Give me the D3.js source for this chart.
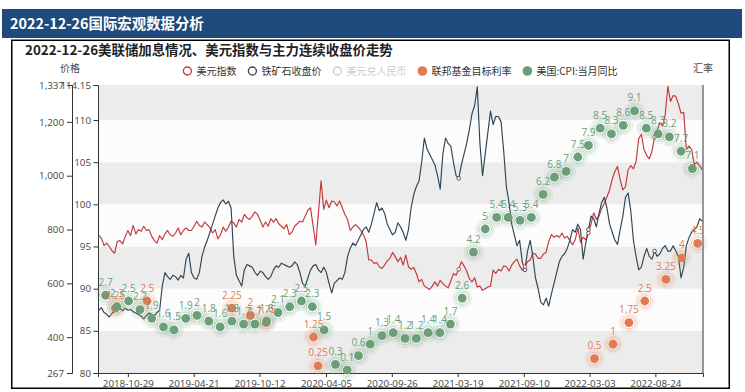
<!DOCTYPE html>
<html><head><meta charset="utf-8">
<script src="https://cdn.jsdelivr.net/npm/d3@7"></script>
<style>
body{margin:0;background:#fff;}
svg{display:block;font-family:"Noto Sans CJK SC","Noto Sans",sans-serif;}
.num{font-family:"Open Sans","Noto Sans",sans-serif;}
</style>
</head><body>
<svg id="c" width="745" height="392"></svg>
<script>
const headerText = "2022-12-26国际宏观数据分析";
const titleText = "2022-12-26美联储加息情况、美元指数与主力连续收盘价走势";
const leftAxisName = "价格";
const rightAxisName = "汇率";
const legendNames = ["美元指数","铁矿石收盘价","美元兑人民币","联邦基金目标利率","美国:CPI:当月同比"];
const seriesColors = ["#c4373a","#2f4554","#cccccc","#e07b52","#6a9f78"];
const legendActive = [true,true,false,true,true];
const xTickDates = ["2018-10-29","2019-04-21","2019-10-12","2020-04-05","2020-09-26","2021-03-19","2021-09-10","2022-03-03","2022-08-24"];
const priceTicks = [267,400,600,800,1000,1200,1337];
const indexTicks = [80,85,90,95,100,105,110,114.15];
const weeklyStart = "2018-08-13", weeklyEnd = "2022-12-26";

// 美元指数 (weekly)
const dxy = [
96.3,96.0,95.1, 95.4,95.0,94.5,94.2, 95.6,95.7,95.3,96.2,96.9, 96.3,97.5,96.5,97.0, 96.8,97.4,96.9,97.0,96.2,
95.7,95.4,96.3,95.8, 96.5,96.9,96.4,96.2, 96.6,97.2,96.4,96.9, 97.2,96.9,96.9,97.4,98.0, 97.5,97.3,97.9,97.6, 97.2,96.6,97.0,95.9,
96.4,97.3,96.8,97.3,98.0, 97.8,97.3,98.2,97.9, 98.8,98.4,98.2,98.6,99.1, 98.8,98.1,97.3,97.9, 97.4,98.3,97.9,98.3, 97.7,97.4,97.1,97.6,96.4,
96.7,97.4,97.7,98.0, 97.9,98.6,99.3,99.6, 97.4,95.2,99.0,102.8,99.4, 100.5,99.6,100.4,100.3, 99.8,100.4,99.6,98.8, 98.2,96.9,97.3,97.6,97.3,
96.9,96.4,95.6,93.4, 93.4,93.0,93.1,92.6,92.4, 92.8,93.3,93.6,94.3, 93.8,93.2,93.7,92.8, 94.0,92.6,92.3,92.5,91.8, 90.8,91.1,90.3,90.1,
89.9,90.3,90.8,90.3, 91.0,90.6,90.3,90.1, 90.9,91.8,91.6,92.3,93.2, 92.7,92.1,91.2,90.8, 91.3,90.2,90.3,89.8,90.0, 90.2,90.3,92.2,91.8,
92.3,92.1,92.7,92.6, 92.1,92.8,93.2,93.5,92.7, 92.2,92.6,93.2,93.4, 94.2,94.1,93.6,93.6, 94.1,94.3,95.6,96.4,96.1, 96.3,96.1,96.6,96.0,
96.2,95.7,95.2,95.8,97.2, 95.5,96.1,95.8,96.6, 97.7,99.0,98.2,98.6, 99.5,100.1,100.9,101.7, 103.0,103.9,104.5,102.9,101.7, 102.1,104.1,104.6,104.2,
105.1,107.8,108.3,106.5, 105.8,105.4,106.3,108.0,108.8, 109.7,109.3,110.6,114.0, 112.2,112.9,112.8,111.9,110.8, 110.9,106.5,106.9,106.5, 104.7,105.0,104.6,104.1
];
// 铁矿石收盘价 (weekly)
const iron = [
500,510,492, 485,475,488,497, 502,506,498,508,500, 503,495,490,485, 478,468,480,490,485,
480,492,500,590, 640,625,615,630, 625,612,630,620, 690,712,640,620,615, 640,700,735,760, 790,820,850,880,
900,910,895,905,880, 700,630,610,590, 650,670,665,660,640, 630,645,640,625, 615,625,650,665, 660,675,670,665,660,
665,680,670,640, 600,590,620,650, 665,670,650,640,660, 640,600,565,600, 610,620,615,640, 700,730,750,740,760,
780,800,810,790, 820,860,900,870,880, 860,820,800,780, 790,825,810,790, 760,800,880,930,960, 980,1050,1140,1100,
1080,1060,1040,1000, 950,1080,1140,1120, 1110,1050,1000,990,1040, 1080,1120,1170,1230, 1260,1330,1120,1000,1080, 1160,1240,1190,1220,
1220,1200,1090,960, 900,820,780,740,760, 680,650,720,760, 700,620,580,530, 520,545,515,560,600, 640,680,700,710,
730,760,800,790,820, 800,690,750,800, 850,840,810,860, 900,920,880,820, 790,760,745,800,850, 920,936,870,760,
700,650,660,700, 730,700,690,720,700, 710,730,740,720, 720,740,720,700,620, 660,740,770,790, 800,810,840,830
];
// 美国:CPI:当月同比 (monthly, from 2018-08)
const cpiStartMonth = "2018-08";
const cpi = [2.7,2.3,2.5,2.2,1.9, 1.6,1.5,1.9,2,1.8,1.6,1.8,1.7,1.7,1.8,2.1,2.3, 2.5,2.3,1.5,0.3,0.1,0.6,1,1.3,1.4,1.2,1.2,1.4,
 1.4,1.7,2.6,4.2,5,5.4,5.4,5.3,5.4,6.2,6.8,7, 7.5,7.9,8.5,8.3,8.6,9.1,8.5,8.3,8.2,7.7,7.1];
// 联邦基金目标利率 (decision dates)
const rateDates = ["2018-09-26","2018-12-19","2019-07-31","2019-09-18","2019-10-30","2020-03-03","2020-03-15","2022-03-16","2022-05-04","2022-06-15","2022-07-27","2022-09-21","2022-11-02","2022-12-14"];
const rateValues = [2.25,2.5,2.25,2,1.75,1.25,0.25,0.5,1,1.75,2.5,3.25,4,4.5];

const parse = d3.timeParse("%Y-%m-%d");
const svg = d3.select("#c");

// header + frame
svg.append("rect").attr("x",2).attr("y",9).attr("width",740).attr("height",29).attr("fill","#1f4a7c");
svg.append("text").attr("x",10).attr("y",28.5).attr("fill","#fff").attr("font-size",14.4).attr("font-weight",700).text(headerText);
svg.append("rect").attr("x",11.75).attr("y",40.25).attr("width",717.5).attr("height",348).attr("fill","#fff").attr("stroke","#000").attr("stroke-width",1.5);
svg.append("text").attr("x",25).attr("y",54.5).attr("fill","#222").attr("font-size",13.4).attr("font-weight",700).text(titleText);

// plot geometry
const L = 98, R = 703, T = 85, B = 373;
const x = d3.scaleTime().domain([parse("2018-08-11"), parse("2022-12-28")]).range([L, R]);
const yP = d3.scaleLinear().domain([267,1337]).range([B,T]);
const yI = d3.scaleLinear().domain([80,114.15]).range([B,T]);
const yR = d3.scaleLinear().domain([0,10]).range([B,T]);

// split areas
for (let i = 0; i < indexTicks.length - 1; i++) {
  svg.append("rect").attr("x",L).attr("width",R-L)
    .attr("y",yI(indexTicks[i+1])).attr("height",yI(indexTicks[i])-yI(indexTicks[i+1]))
    .attr("fill", i % 2 === 0 ? "#ececec" : "#fcfcfc");
}

// axes
const axisColor = "#333", labelColor = "#444";
const gx = svg.append("g").attr("transform",`translate(0,${B})`)
  .call(d3.axisBottom(x).tickValues(xTickDates.map(parse)).tickFormat(d3.timeFormat("%Y-%m-%d")).tickSizeOuter(0).tickSize(4).tickPadding(3));
const gI = svg.append("g").attr("transform",`translate(${L},0)`)
  .call(d3.axisLeft(yI).tickValues(indexTicks).tickFormat(d=>String(d)).tickSizeOuter(0).tickSize(4.5).tickPadding(2.5));
const gP = svg.append("g").attr("transform",`translate(72,0)`)
  .call(d3.axisLeft(yP).tickValues(priceTicks).tickFormat(d3.format(",")).tickSizeOuter(0).tickSize(5).tickPadding(3));
svg.append("line").attr("x1",R).attr("x2",R).attr("y1",T).attr("y2",B).attr("stroke",axisColor);
[gx,gI,gP].forEach(g=>{
  g.selectAll("path.domain").attr("stroke",axisColor);
  g.selectAll(".tick line").attr("stroke",axisColor);
  g.selectAll("text").attr("fill",labelColor).attr("font-size",9.8).attr("class","num").attr("font-family",null);
});
svg.append("text").attr("x",70).attr("y",72).attr("text-anchor","middle").attr("font-size",10).attr("fill",labelColor).text(leftAxisName);
svg.append("text").attr("x",703).attr("y",72).attr("text-anchor","middle").attr("font-size",10).attr("fill",labelColor).text(rightAxisName);

// weekly dates
const wStart = parse(weeklyStart), wEnd = parse(weeklyEnd);
const wDate = (i, n) => new Date(+wStart + (wEnd - wStart) * i / (n - 1));

svg.append("clipPath").attr("id","clp").append("rect").attr("x",L).attr("y",T-1).attr("width",R-L).attr("height",B-T+1);

function drawLine(vals, yScale, color) {
  const line = d3.line().x((d,i)=>x(wDate(i, vals.length))).y(d=>yScale(d));
  svg.append("path").datum(vals).attr("d",line).attr("fill","none").attr("stroke",color).attr("stroke-width",1.15).attr("stroke-linejoin","round").attr("clip-path","url(#clp)");
}
drawLine(dxy, yI, seriesColors[0]);
drawLine(iron, yP, seriesColors[1]);

// small symbols shown on lines at the later axis labels
const symbolDates = xTickDates.slice(5).map(parse);
function drawSymbols(vals, yScale, color) {
  symbolDates.forEach(dt=>{
    let best = 0, bd = Infinity;
    vals.forEach((v,i)=>{ const dd = Math.abs(wDate(i, vals.length) - dt); if (dd < bd) { bd = dd; best = i; } });
    svg.append("circle").attr("cx",x(wDate(best, vals.length))).attr("cy",yScale(vals[best])).attr("r",1.8)
      .attr("fill","#fff").attr("stroke",color).attr("stroke-width",0.9);
  });
}
drawSymbols(dxy, yI, seriesColors[0]);
drawSymbols(iron, yP, seriesColors[1]);

// effect scatter
function rippleScatter(points, color) {
  const g = svg.append("g");
  points.forEach(p=>{
    const cx = x(p.date), cy = yR(p.value);
    [[9.5,0.18],[7.8,0.3],[6.2,0.45]].forEach(([r,o])=>{
      g.append("circle").attr("cx",cx).attr("cy",cy).attr("r",r).attr("fill","none").attr("stroke",color).attr("stroke-opacity",o).attr("stroke-width",0.9);
    });
    g.append("circle").attr("cx",cx).attr("cy",cy).attr("r",4.4).attr("fill",color);
  });
  return g;
}
function scatterLabels(points, color) {
  const g = svg.append("g");
  points.forEach(p=>{
    g.append("text").attr("x",x(p.date)).attr("y",yR(p.value)-9.5).attr("text-anchor","middle")
      .attr("font-size",10).attr("class","num").attr("fill",color).text(String(p.value));
  });
}
const cpiStart = d3.timeParse("%Y-%m")(cpiStartMonth);
const cpiPts = cpi.map((v,i)=>({date: d3.timeDay.offset(d3.timeMonth.offset(cpiStart, i+1), -1), value: v}));
const ratePts = rateValues.map((v,i)=>({date: parse(rateDates[i]), value: v}));
rippleScatter(ratePts, seriesColors[3]);
rippleScatter(cpiPts, seriesColors[4]);
scatterLabels(cpiPts, seriesColors[4]);
scatterLabels(ratePts, seriesColors[3]);

// legend
const lg = svg.append("g");
let cx = 0;
legendNames.forEach((name,i)=>{
  const g = lg.append("g");
  const col = legendActive[i] ? seriesColors[i] : "#ccc";
  if (i < 3) {
    g.append("circle").attr("cx",cx+5).attr("cy",0).attr("r",4).attr("fill","#fff").attr("stroke",col).attr("stroke-width",1.3);
  } else {
    g.append("circle").attr("cx",cx+5).attr("cy",0).attr("r",4.8).attr("fill",col);
  }
  const t = g.append("text").attr("x",cx+14).attr("y",3.6).attr("font-size",10).attr("fill",legendActive[i] ? "#333" : "#ccc").text(name);
  cx += 14 + t.node().getComputedTextLength() + 11;
});
const lw = cx - 11;
lg.attr("transform",`translate(${400 - lw/2},71)`);
</script>
</body></html>
